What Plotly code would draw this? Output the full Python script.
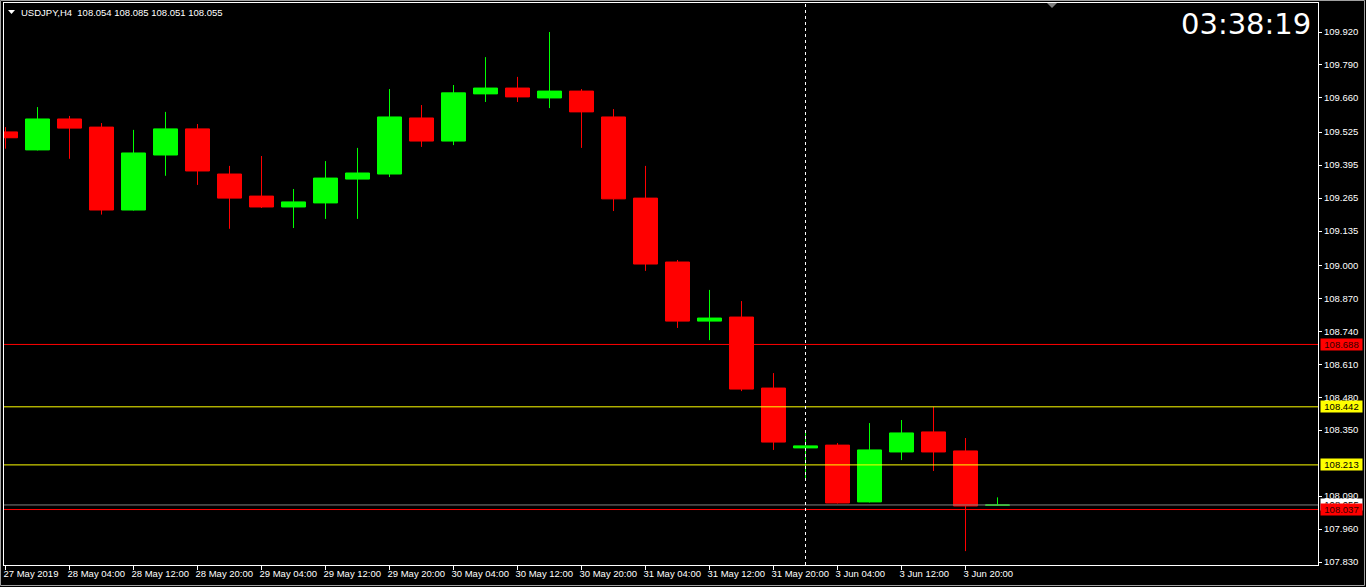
import plotly.graph_objects as go

# ---- data ----
bar_times = [
    "27 May 20:00",
    "28 May 00:00", "28 May 04:00", "28 May 08:00", "28 May 12:00", "28 May 16:00", "28 May 20:00",
    "29 May 00:00", "29 May 04:00", "29 May 08:00", "29 May 12:00", "29 May 16:00", "29 May 20:00",
    "30 May 00:00", "30 May 04:00", "30 May 08:00", "30 May 12:00", "30 May 16:00", "30 May 20:00",
    "31 May 00:00", "31 May 04:00", "31 May 08:00", "31 May 12:00", "31 May 16:00", "31 May 20:00",
    "3 Jun 00:00", "3 Jun 04:00", "3 Jun 08:00", "3 Jun 12:00", "3 Jun 16:00", "3 Jun 20:00",
    "4 Jun 00:00",
]
opens = [109.526, 109.455, 109.577, 109.545, 109.218, 109.435, 109.538, 109.360, 109.273, 109.230,
         109.246, 109.340, 109.360, 109.581, 109.490, 109.676, 109.699, 109.660, 109.687, 109.585,
         109.265, 109.013, 108.780, 108.796, 108.516, 108.280, 108.291, 108.067, 108.264, 108.343,
         108.268, 108.054]
highs = [109.545, 109.624, 109.589, 109.561, 109.534, 109.605, 109.557, 109.392, 109.431, 109.301,
         109.411, 109.463, 109.695, 109.632, 109.711, 109.821, 109.743, 109.920, 109.695, 109.616,
         109.392, 109.021, 108.903, 108.859, 108.575, 108.343, 108.299, 108.378, 108.390, 108.442,
         108.319, 108.085]
lows = [109.460, 109.453, 109.420, 109.200, 109.216, 109.353, 109.317, 109.144, 109.226, 109.147,
        109.183, 109.183, 109.348, 109.467, 109.474, 109.644, 109.644, 109.620, 109.463, 109.214,
        108.978, 108.753, 108.705, 108.504, 108.272, 108.161, 108.061, 108.065, 108.232, 108.189,
        107.873, 108.051]
closes = [109.503, 109.577, 109.541, 109.218, 109.443, 109.538, 109.372, 109.265, 109.230, 109.250,
          109.344, 109.364, 109.585, 109.490, 109.680, 109.699, 109.664, 109.687, 109.605, 109.262,
          109.005, 108.780, 108.792, 108.512, 108.303, 108.288, 108.063, 108.272, 108.339, 108.264,
          108.051, 108.055]

time_tick_bars = [0, 2, 4, 6, 8, 10, 12, 14, 16, 18, 20, 22, 24, 26, 28, 30]
time_tick_labels = ["27 May 2019", "28 May 04:00", "28 May 12:00", "28 May 20:00", "29 May 04:00",
                    "29 May 12:00", "29 May 20:00", "30 May 04:00", "30 May 12:00", "30 May 20:00",
                    "31 May 04:00", "31 May 12:00", "31 May 20:00", "3 Jun 04:00", "3 Jun 12:00",
                    "3 Jun 20:00"]
price_ticks = [109.920, 109.790, 109.660, 109.525, 109.395, 109.265, 109.135, 109.000, 108.870,
               108.740, 108.610, 108.480, 108.350, 108.090, 107.960, 107.830]

level_prices = [108.688, 108.442, 108.213, 108.055, 108.037]
level_colors = ["#FF0000", "#FFFF00", "#FFFF00", "#808080", "#FF0000"]
label_bg = ["#FF0000", "#FFFF00", "#FFFF00", "#FFFFFF", "#FF0000"]
label_fg = ["#300000", "#000000", "#000000", "#000000", "#300000"]

symbol = "USDJPY,H4"
header_ohlc = ["108.054", "108.085", "108.051", "108.055"]
clock_text = "03:38:19"
separator_bar = 25

# ---- figure ----
W, H = 1366, 587
ML, MR, MT, MB = 4, 48, 3, 22
PW, PH = W - ML - MR, H - MT - MB

xs = list(range(len(bar_times)))

fig = go.Figure()
fig.add_trace(go.Candlestick(
    x=xs, open=opens, high=highs, low=lows, close=closes,
    text=bar_times, hoverinfo="text+y",
    increasing=dict(line=dict(color="#00FF00", width=1), fillcolor="#00FF00"),
    decreasing=dict(line=dict(color="#FF0000", width=1), fillcolor="#FF0000"),
    whiskerwidth=0, showlegend=False,
))

shapes = []
for p, c in zip(level_prices, level_colors):
    shapes.append(dict(type="line", xref="paper", yref="y", x0=0, x1=1, y0=p, y1=p,
                       line=dict(color=c, width=1), layer="above"))
shapes.append(dict(type="line", xref="x", yref="paper", x0=separator_bar, x1=separator_bar,
                   y0=0, y1=1, line=dict(color="#FFFFFF", width=1, dash="3px,3px")))

def px_x(px):
    return (px - ML) / PW

def px_y(py):
    return 1 - (py - MT) / PH

# small header triangle
shapes.append(dict(type="path", xref="paper", yref="paper",
                   path=f"M {px_x(8)},{px_y(10)} L {px_x(15)},{px_y(10)} L {px_x(11.5)},{px_y(14)} Z",
                   fillcolor="#FFFFFF", line=dict(width=0)))
# chart shift marker
shapes.append(dict(type="path", xref="paper", yref="paper",
                   path=f"M {px_x(1047)},{px_y(3)} L {px_x(1057)},{px_y(3)} L {px_x(1052)},{px_y(8)} Z",
                   fillcolor="#808080", line=dict(width=0)))
# window border
shapes.append(dict(type="rect", xref="paper", yref="paper",
                   x0=px_x(0.5), x1=px_x(W - 1.5), y0=px_y(H - 1.5), y1=px_y(0.5),
                   line=dict(color="#A0A0A0", width=1)))

annotations = []
annotations.append(dict(xref="paper", yref="paper", x=px_x(20), y=px_y(12), xanchor="left",
                        yanchor="middle", showarrow=False, borderpad=0,
                        text=symbol + "  " + " ".join(header_ohlc),
                        font=dict(family="Liberation Sans", size=9.5, color="#FFFFFF")))
annotations.append(dict(xref="paper", yref="paper", x=1, xshift=-6, y=px_y(24), xanchor="right",
                        yanchor="middle", showarrow=False, borderpad=0, text=clock_text,
                        font=dict(family="DejaVu Sans", size=29, color="#FFFFFF")))
for p, bg, fg in zip(level_prices, label_bg, label_fg):
    annotations.append(dict(xref="paper", yref="y", x=1, xshift=2, y=p, xanchor="left",
                            yanchor="middle", showarrow=False, borderpad=0, width=41, height=11,
                            align="center", bgcolor=bg, text=f"{p:.3f}",
                            font=dict(family="Liberation Sans", size=9.5, color=fg)))

x0 = (ML - 5.5) / 32
x1 = (W - MR - 5.5) / 32
ppx = 253.6
y_top = 109.920 + (32 - MT) / ppx
y_bot = 109.920 - (H - MB - 32) / ppx

fig.update_layout(
    width=W, height=H,
    margin=dict(l=ML, r=MR, t=MT, b=MB, pad=0, autoexpand=False),
    paper_bgcolor="#000000", plot_bgcolor="#000000",
    boxgap=0.25, boxgroupgap=0,
    shapes=shapes, annotations=annotations,
    xaxis=dict(
        type="linear", range=[x0, x1], rangeslider=dict(visible=False),
        tickmode="array", tickvals=time_tick_bars, ticktext=time_tick_labels,
        ticks="outside", ticklen=4, tickcolor="#FFFFFF", tickwidth=1,
        ticklabelposition="outside right", ticklabelshift=-3, tickangle=0, automargin=False,
        tickfont=dict(family="Liberation Sans", size=9.5, color="#FFFFFF"),
        showline=True, linecolor="#FFFFFF", linewidth=1, mirror=True,
        showgrid=False, zeroline=False,
    ),
    yaxis=dict(
        side="right", range=[y_bot, y_top], automargin=False,
        tickmode="array", tickvals=price_ticks, ticktext=[f"{v:.3f}" for v in price_ticks],
        ticks="outside", ticklen=3, tickcolor="#FFFFFF", tickwidth=1,
        tickfont=dict(family="Liberation Sans", size=9.5, color="#FFFFFF"),
        showline=True, linecolor="#FFFFFF", linewidth=1, mirror=True,
        showgrid=False, zeroline=False,
    ),
    hovermode=False,
)

fig.write_html("out.html", config={"displayModeBar": False},
               post_script="document.body.style.margin='0';")
